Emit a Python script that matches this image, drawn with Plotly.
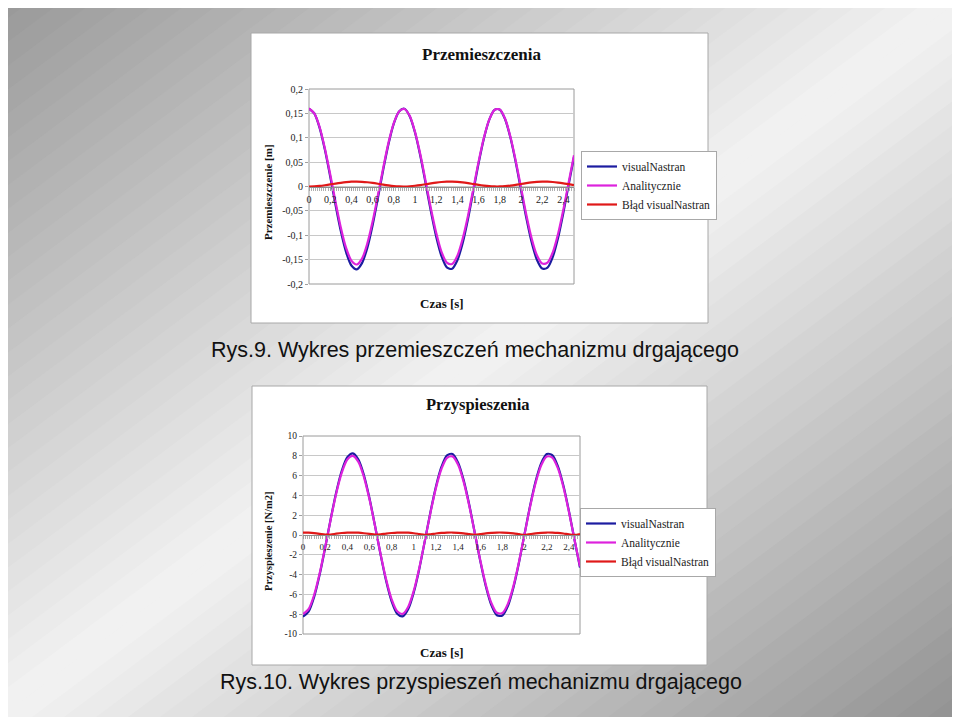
import plotly.graph_objects as go

# --- dane (czas co 0.05 s) ---
czas = [0.00, 0.05, 0.10, 0.15, 0.20, 0.25, 0.30, 0.35, 0.40, 0.45,
        0.50, 0.55, 0.60, 0.65, 0.70, 0.75, 0.80, 0.85, 0.90, 0.95,
        1.00, 1.05, 1.10, 1.15, 1.20, 1.25, 1.30, 1.35, 1.40, 1.45,
        1.50, 1.55, 1.60, 1.65, 1.70, 1.75, 1.80, 1.85, 1.90, 1.95,
        2.00, 2.05, 2.10, 2.15, 2.20, 2.25, 2.30, 2.35, 2.40, 2.45, 2.50]

# Przemieszczenia [m]
przem_vn = [0.1600, 0.1498, 0.1204, 0.0754, 0.0206, -0.0375, -0.0915, -0.1348, -0.1621, -0.1699,
            -0.1572, -0.1258, -0.0793, -0.0237, 0.0343, 0.0874, 0.1291, 0.1540, 0.1594, 0.1443,
            0.1109, 0.0630, 0.0067, -0.0511, -0.1031, -0.1430, -0.1658, -0.1687, -0.1512, -0.1158,
            -0.0666, -0.0096, 0.0477, 0.0986, 0.1367, 0.1572, 0.1576, 0.1379, 0.1005, 0.0500,
            -0.0073, -0.0643, -0.1140, -0.1502, -0.1684, -0.1663, -0.1442, -0.1050, -0.0534, 0.0043, 0.0608]
przem_anal = [0.160, 0.150, 0.122, 0.078, 0.025, -0.031, -0.084, -0.126, -0.152, -0.160,
              -0.148, -0.117, -0.072, -0.018, 0.038, 0.090, 0.130, 0.154, 0.159, 0.145,
              0.112, 0.066, 0.011, -0.045, -0.095, -0.134, -0.156, -0.159, -0.142, -0.107,
              -0.060, -0.005, 0.051, 0.100, 0.137, 0.157, 0.158, 0.139, 0.102, 0.053,
              -0.002, -0.058, -0.106, -0.141, -0.158, -0.156, -0.135, -0.097, -0.047, 0.009, 0.064]
przem_blad = [0.0000, 0.0003, 0.0012, 0.0026, 0.0042, 0.0060, 0.0076, 0.0089, 0.0098, 0.0100,
              0.0096, 0.0087, 0.0073, 0.0056, 0.0038, 0.0022, 0.0009, 0.0002, 0.0000, 0.0005,
              0.0015, 0.0029, 0.0046, 0.0064, 0.0080, 0.0092, 0.0099, 0.0100, 0.0094, 0.0084,
              0.0069, 0.0051, 0.0034, 0.0019, 0.0007, 0.0001, 0.0001, 0.0007, 0.0018, 0.0033,
              0.0051, 0.0068, 0.0083, 0.0094, 0.0100, 0.0099, 0.0092, 0.0080, 0.0065, 0.0047, 0.0030]

# Przyspieszenia
przysp_vn = [-8.25, -7.74, -6.27, -4.02, -1.28, 1.62, 4.33, 6.49, 7.85, 8.24,
             7.61, 6.04, 3.71, 0.93, -1.97, -4.62, -6.70, -7.95, -8.22, -7.47,
             -5.79, -3.40, -0.58, 2.30, 4.91, 6.90, 8.04, 8.18, 7.31, 5.54,
             3.08, 0.23, -2.64, -5.18, -7.09, -8.11, -8.13, -7.15, -5.27, -2.75,
             0.12, 2.97, 5.45, 7.26, 8.17, 8.07, 6.96, 5.00, 2.42, -0.46, -3.29]
przysp_anal = [-8.00, -7.50, -6.08, -3.90, -1.24, 1.57, 4.20, 6.29, 7.62, 7.99,
               7.38, 5.85, 3.60, 0.90, -1.91, -4.48, -6.50, -7.71, -7.97, -7.24,
               -5.62, -3.30, -0.57, 2.23, 4.76, 6.69, 7.80, 7.94, 7.09, 5.37,
               2.98, 0.23, -2.56, -5.02, -6.87, -7.86, -7.88, -6.93, -5.11, -2.67,
               0.11, 2.88, 5.28, 7.04, 7.92, 7.82, 6.75, 4.85, 2.34, -0.45, -3.19]
przysp_blad = [0.25, 0.23, 0.19, 0.12, 0.04, 0.05, 0.13, 0.20, 0.24, 0.25,
               0.23, 0.18, 0.11, 0.03, 0.06, 0.14, 0.20, 0.24, 0.25, 0.23,
               0.18, 0.10, 0.02, 0.07, 0.15, 0.21, 0.24, 0.25, 0.22, 0.17,
               0.09, 0.01, 0.08, 0.16, 0.21, 0.25, 0.25, 0.22, 0.16, 0.08,
               0.00, 0.09, 0.17, 0.22, 0.25, 0.24, 0.21, 0.15, 0.07, 0.01, 0.10]

nazwy = ['visualNastran', 'Analitycznie', 'Błąd visualNastran']
kolory = ['#1c1ca0', '#dd22dd', '#e01818']

x_ticks = [0, 0.2, 0.4, 0.6, 0.8, 1, 1.2, 1.4, 1.6, 1.8, 2, 2.2, 2.4]
x_ticktext = ['0', '0,2', '0,4', '0,6', '0,8', '1', '1,2', '1,4', '1,6', '1,8', '2', '2,2', '2,4']
y1_ticks = [0.2, 0.15, 0.1, 0.05, 0, -0.05, -0.1, -0.15, -0.2]
y1_ticktext = ['0,2', '0,15', '0,1', '0,05', '0', '-0,05', '-0,1', '-0,15', '-0,2']
y2_ticks = [10, 8, 6, 4, 2, 0, -2, -4, -6, -8, -10]
y2_ticktext = ['10', '8', '6', '4', '2', '0', '-2', '-4', '-6', '-8', '-10']

# strona 960x717, ale wykres zaczyna sie 8 px od krawedzi (margines body)
PW, PH = 960, 717
OFF = 8
W, H = PW - OFF, PH - OFF
SERIF = 'Liberation Serif'


def fx(px):
    return (px - OFF) / W


def fy(py):
    return 1 - (py - OFF) / H


fig = go.Figure()

for ys, name, col in zip([przem_vn, przem_anal, przem_blad], nazwy, kolory):
    fig.add_trace(go.Scatter(x=czas, y=ys, name=name, mode='lines',
                             line=dict(color=col, width=2.2, shape='spline', smoothing=0.8),
                             xaxis='x', yaxis='y', legend='legend'))

for ys, name, col in zip([przysp_vn, przysp_anal, przysp_blad], nazwy, kolory):
    fig.add_trace(go.Scatter(x=czas, y=ys, name=name, mode='lines',
                             line=dict(color=col, width=2.2, shape='spline', smoothing=0.8),
                             xaxis='x2', yaxis='y2', legend='legend2'))

# tlo slajdu - ukosny gradient (ciemne rogi lewy-gorny i prawy-dolny)
shapes = []
n_pasm = 60
for k in range(n_pasm):
    t = (k + 0.5) / n_pasm
    if t < 0.5:
        jas = 152 + (243 - 152) * t / 0.5
    else:
        jas = 243 - (243 - 146) * (t - 0.5) / 0.5
    jas = int(round(jas))
    s0 = 2 * k / n_pasm
    s1 = 2 * (k + 1) / n_pasm + 0.004
    pts = [(PW * (s0 + 100 / PH), -100), (PW * (s0 - 900 / PH), 900),
           (PW * (s1 - 900 / PH), 900), (PW * (s1 + 100 / PH), -100)]
    path = 'M ' + ' L '.join(f'{fx(a):.5f},{fy(b):.5f}' for a, b in pts) + ' Z'
    shapes.append(dict(type='path', xref='paper', yref='paper', layer='below',
                       path=path, fillcolor=f'rgb({jas},{jas},{jas})', line=dict(width=0)))

# biale ramki wykresow
for (x0, y0, x1, y1) in [(251, 33, 708, 323), (252, 386, 707, 665)]:
    shapes.append(dict(type='rect', xref='paper', yref='paper', layer='below',
                       x0=fx(x0), x1=fx(x1), y0=fy(y1), y1=fy(y0),
                       fillcolor='white', line=dict(color='#a8a8a8', width=1)))

# obramowanie obszaru wykresu
for xr, yr in [('x domain', 'y domain'), ('x2 domain', 'y2 domain')]:
    shapes.append(dict(type='rect', xref=xr, yref=yr, layer='below',
                       x0=0, x1=1, y0=0, y1=1, line=dict(color='#9a9a9a', width=1)))

dom_y1 = [fy(284), fy(89)]
dom_y2 = [fy(634), fy(436)]

os_x = dict(range=[0, 2.5], tickmode='array', tickvals=x_ticks, ticktext=x_ticktext,
            anchor='free', showline=True, linecolor='#8c8c8c', linewidth=1,
            ticks='outside', ticklen=3, tickcolor='#a0a0a0', showgrid=False, zeroline=False,
            minor=dict(dtick=0.02, ticks='outside', ticklen=3, tickcolor='#b0b0b0', showgrid=False))

os_y = dict(tickmode='array', showgrid=True, gridcolor='#c8c8c8', gridwidth=1,
            zeroline=False, showline=False, ticks='outside', ticklen=3, tickcolor='#a0a0a0')

fig.update_layout(
    width=W, height=H,
    margin=dict(l=0, r=0, t=0, b=0, autoexpand=False),
    paper_bgcolor='#c0c0c0', plot_bgcolor='rgba(0,0,0,0)',
    showlegend=True,
    shapes=shapes,
    xaxis=dict(os_x, domain=[fx(309), fx(574)], position=(dom_y1[0] + dom_y1[1]) / 2,
               tickfont=dict(family=SERIF, size=10, color='#222')),
    yaxis=dict(os_y, domain=dom_y1, range=[-0.2, 0.2], anchor='x',
               tickvals=y1_ticks, ticktext=y1_ticktext,
               tickfont=dict(family=SERIF, size=10, color='#222')),
    xaxis2=dict(os_x, domain=[fx(303), fx(580)], position=(dom_y2[0] + dom_y2[1]) / 2,
                tickfont=dict(family=SERIF, size=9, color='#222')),
    yaxis2=dict(os_y, domain=dom_y2, range=[-10, 10], anchor='x2',
                tickvals=y2_ticks, ticktext=y2_ticktext,
                tickfont=dict(family=SERIF, size=9.5, color='#222')),
    legend=dict(x=fx(581), y=fy(151), xanchor='left', yanchor='top',
                bgcolor='white', bordercolor='#a8a8a8', borderwidth=1,
                font=dict(family=SERIF, size=11.5, color='#222'), tracegroupgap=0),
    legend2=dict(x=fx(580), y=fy(508), xanchor='left', yanchor='top',
                 bgcolor='white', bordercolor='#a8a8a8', borderwidth=1,
                 font=dict(family=SERIF, size=11.5, color='#222'), tracegroupgap=0),
)

napisy = [
    ('<b>Przemieszczenia</b>', 481, 54, SERIF, 17, 0),
    ('<b>Przemieszczenie [m]</b>', 268, 192, SERIF, 11, -90),
    ('<b>Czas [s]</b>', 442, 303, SERIF, 13, 0),
    ('<b>Przyspieszenia</b>', 478, 404, SERIF, 16.5, 0),
    ('<b>Przyspieszenie [N/m2]</b>', 268, 542, SERIF, 10.5, -90),
    ('<b>Czas [s]</b>', 442, 652, SERIF, 13, 0),
    ('Rys.9. Wykres przemieszczeń mechanizmu drgającego', 475, 350, 'Liberation Sans', 21.5, 0),
    ('Rys.10. Wykres przyspieszeń mechanizmu drgającego', 481, 682, 'Liberation Sans', 21.5, 0),
]
for tekst, px, py, fam, size, ang in napisy:
    fig.add_annotation(text=tekst, x=fx(px), y=fy(py), xref='paper', yref='paper',
                       showarrow=False, xanchor='center', yanchor='middle', textangle=ang,
                       font=dict(family=fam, size=size, color='#111'))

fig.write_html("out.html")
